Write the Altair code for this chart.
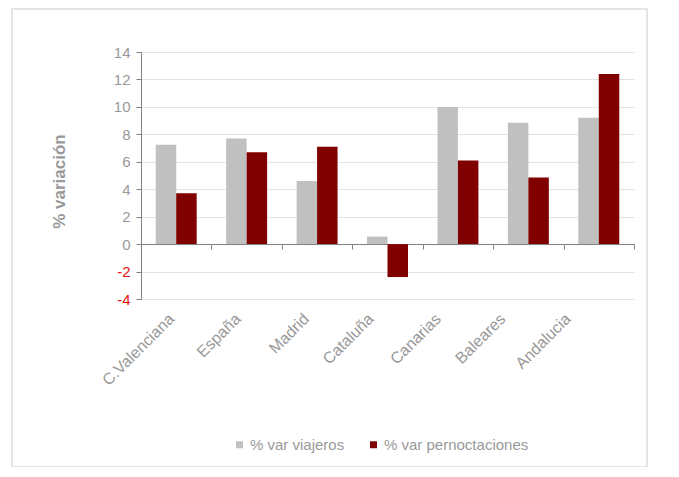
import altair as alt
import pandas as pd

regions = ["C.Valenciana", "España", "Madrid", "Cataluña", "Canarias", "Baleares", "Andalucia"]
series = ["% var viajeros", "% var pernoctaciones"]
viajeros = [7.25, 7.7, 4.6, 0.55, 10.0, 8.85, 9.2]
pernoctaciones = [3.7, 6.7, 7.1, -2.4, 6.1, 4.85, 12.4]
y_ticks = [-4, -2, 0, 2, 4, 6, 8, 10, 12, 14]
# label shift (px) seen in the reference: labels drift left of their group
label_shift = [-5, -9, -11, -17, -20, -26, -31]

rows = []
for i, r in enumerate(regions):
    rows.append({"region": r, "serie": series[0], "valor": viajeros[i]})
    rows.append({"region": r, "serie": series[1], "valor": pernoctaciones[i]})
df = pd.DataFrame(rows)

W, H = 493, 247
GRAY_TXT = "#999999"
AXIS_C = "#808080"

label_offset = {
    "condition": [{"test": f"datum.value === '{r}'", "value": s} for r, s in zip(regions, label_shift)],
    "value": -15,
}

bars = alt.Chart(df).mark_bar().encode(
    x=alt.X("region:N", sort=regions,
            scale=alt.Scale(paddingInner=0, paddingOuter=0),
            axis=alt.Axis(title=None, offset=-55, domainColor=AXIS_C, tickColor=AXIS_C,
                          tickSize=5, tickBand="extent", labelAngle=-45, labelPadding=67,
                          labelBaseline="middle", labelAlign="right", labelOffset=label_offset,
                          labelFontSize=16, labelColor=GRAY_TXT, grid=False)),
    xOffset=alt.XOffset("serie:N", sort=series,
                        scale=alt.Scale(paddingInner=0, paddingOuter=0.72)),
    y=alt.Y("valor:Q", scale=alt.Scale(domain=[-4, 14], nice=False, zero=False),
            axis=alt.Axis(values=y_ticks, grid=True, gridColor="#e3e3e3", domainColor=AXIS_C,
                          tickColor=AXIS_C, tickSize=5, labelFontSize=15, labelPadding=6,
                          labelExpr="'' + datum.value",
                          labelColor={"condition": {"test": "datum.value < 0", "value": "#ee1111"},
                                      "value": GRAY_TXT},
                          title="% variación", titleFontSize=17, titleFontWeight="bold",
                          titleColor=GRAY_TXT, titleX=-73, titleY=129)),
    color=alt.Color("serie:N", sort=series,
                    scale=alt.Scale(domain=series, range=["#c0c0c0", "#800000"]),
                    legend=alt.Legend(orient="none", legendX=91, legendY=385, direction="horizontal",
                                      title=None, symbolType="square", symbolSize=49,
                                      symbolStrokeWidth=0, labelFontSize=15, labelColor=GRAY_TXT,
                                      columnPadding=21, labelOffset=3)),
)

frame = alt.Chart(pd.DataFrame({"a": [0]})).mark_rect(fill=None, stroke="#dddddd", strokeWidth=1.5).encode(
    x=alt.value(-129), x2=alt.value(506), y=alt.value(-43), y2=alt.value(415)
)

chart = alt.layer(frame, bars).properties(
    width=W, height=H,
    autosize=alt.AutoSizeParams(type="none"),
    padding={"left": 133, "top": 44, "right": 35, "bottom": 168},
).configure(font="Liberation Sans").configure_view(stroke=None)

chart.save("out.html", embed_options={"renderer": "svg", "actions": False})
